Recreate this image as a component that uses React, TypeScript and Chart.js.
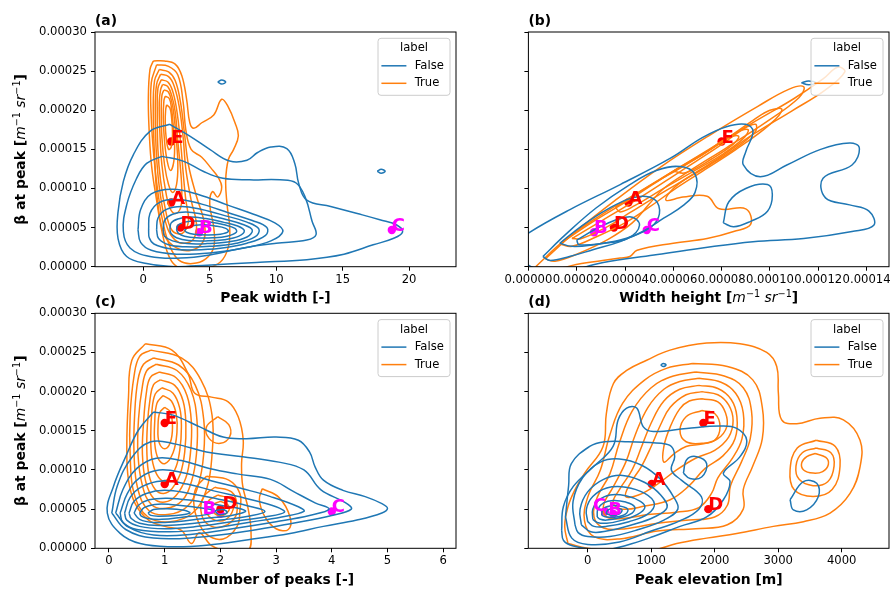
import React, { useEffect, useRef } from 'react';
import { Chart, registerables } from 'chart.js';

Chart.register(...registerables);

type Pt = [number, number];

const FONT = "'DejaVu Sans', 'Liberation Sans', sans-serif";
const BLUE = '#1f77b4';
const ORANGE = '#ff7f0e';

// ---------------- axis ticks ----------------
const betaTicks = [0, 0.00005, 0.0001, 0.00015, 0.0002, 0.00025, 0.0003];
const peakWidthTicks = [0, 5, 10, 15, 20];
const widthHeightTicks = [0, 0.00002, 0.00004, 0.00006, 0.00008, 0.0001, 0.00012, 0.00014];
const numPeaksTicks = [0, 1, 2, 3, 4, 5, 6];
const elevationTicks = [0, 1000, 2000, 3000, 4000];

// ---------------- highlighted cases ----------------
const caseLabels = ['A', 'B', 'C', 'D', 'E'];
const caseColors = ['#ff0000', '#ff00ff', '#ff00ff', '#ff0000', '#ff0000'];
const caseBetaE5 = [8.2, 4.4, 4.7, 5.0, 16.0]; // β at peak, in 1e-5 m^-1 sr^-1
const casePeakWidth = [2.1, 4.2, 18.7, 2.8, 2.1];
const caseWidthHeightE5 = [4.14, 2.72, 4.9, 3.54, 8.0]; // in 1e-5
const caseNumPeaks = [1, 2, 4, 2, 1];
const casePeakElevation = [1008, 404, 273, 1900, 1822];

// ---------------- KDE contour lines (y in 1e-5) ----------------
// (a) Peak width, label False
const widthFalseRings: Pt[][] = [
  [[2.0,18.2],[3.5,16.7],[5.0,15.0],[6.5,13.5],[7.8,13.6],[8.6,14.6],[9.6,15.3],[10.8,15.1],[11.4,13.2],[11.7,10.6],[12.3,8.5],[14.1,7.7],[16.1,6.8],[17.8,6.0],[19.1,5.3],[19.5,4.4],[18.8,3.6],[17.3,2.8],[15.1,1.6],[12.3,0.9],[8.5,0.55],[4.8,0.2],[2.5,0.0],[0.25,0.4],[-1.25,1.3],[-1.9,3.6],[-1.9,7.0],[-1.5,10.9],[-0.75,14.3],[0.5,17.3]],
  [[1.4,14.1],[3.0,13.5],[4.5,12.2],[6.0,11.3],[8.0,11.1],[10.3,11.1],[11.5,10.7],[12.2,8.8],[12.7,5.8],[13.0,4.1],[12.3,3.4],[10.0,3.0],[7.5,2.4],[5.0,1.5],[2.8,1.1],[0.5,1.3],[-1.0,2.4],[-1.5,4.5],[-1.25,7.9],[-0.5,11.3],[0.25,13.2]],
  [[-0.4,4.7],[-0.2,7.3],[0.6,9.3],[2.2,9.9],[4.2,9.2],[6.3,7.9],[8.3,6.7],[9.9,5.6],[10.5,4.5],[9.6,3.3],[7.6,2.4],[5.0,1.75],[2.5,1.6],[0.6,2.1],[-0.2,3.1]],
  [[0.4,4.7],[0.5,6.8],[1.2,8.2],[2.6,8.6],[4.4,8.0],[6.4,6.9],[8.2,5.9],[9.3,5.0],[9.2,4.0],[7.8,3.0],[5.8,2.35],[3.8,2.15],[2.0,2.3],[0.8,2.9],[0.45,3.7]],
  [[1.0,4.7],[1.1,6.2],[1.7,7.3],[2.9,7.7],[4.4,7.3],[6.2,6.5],[7.8,5.7],[8.7,4.8],[8.4,3.8],[7.0,3.0],[5.0,2.6],[3.2,2.55],[1.9,2.8],[1.15,3.6]],
  [[1.5,4.7],[1.6,5.9],[2.2,6.7],[3.2,7.0],[4.5,6.7],[6.1,6.1],[7.5,5.4],[8.2,4.7],[7.8,3.8],[6.5,3.2],[4.8,2.95],[3.3,2.95],[2.2,3.3],[1.6,3.9]],
  [[2.0,4.7],[2.1,5.6],[2.6,6.1],[3.5,6.35],[4.7,6.15],[6.0,5.7],[7.1,5.2],[7.6,4.6],[7.2,3.9],[6.1,3.45],[4.7,3.3],[3.4,3.35],[2.5,3.7],[2.1,4.2]],
  [[2.5,4.7],[2.6,5.3],[3.1,5.7],[4.0,5.85],[5.0,5.7],[6.1,5.35],[6.9,4.9],[7.0,4.4],[6.3,3.9],[5.2,3.7],[4.0,3.7],[3.1,3.9],[2.65,4.25]],
  [[3.1,4.7],[3.5,5.15],[4.4,5.35],[5.4,5.2],[6.2,4.9],[6.4,4.5],[5.8,4.15],[4.8,4.05],[3.8,4.15],[3.25,4.4]],
  [[5.6,23.6],[5.9,23.85],[6.2,23.6],[5.9,23.35]],
  [[17.6,12.2],[17.9,12.45],[18.2,12.2],[17.9,11.95]],
];
// (a) Peak width, label True
const widthTrueRings: Pt[][] = [
  [[0.75,26.3],[1.6,26.3],[2.4,25.9],[2.9,24.4],[3.26,21.4],[3.5,18.4],[3.8,17.7],[4.4,18.4],[5.3,19.4],[5.9,21.4],[6.4,20.4],[6.9,18.4],[7.15,16.7],[6.8,15.0],[6.4,13.7],[6.2,11.0],[6.3,8.0],[6.5,5.0],[6.4,2.5],[5.8,0.6],[4.5,-0.3],[3.0,-0.3],[2.26,0.4],[1.76,2.1],[1.38,4.7],[1.0,8.5],[0.63,12.8],[0.45,17.1],[0.38,21.4],[0.5,25.2]],
  [[1.0,25.8],[1.9,25.6],[2.6,24.5],[3.0,21.0],[3.2,17.5],[3.6,15.0],[4.4,14.0],[5.1,12.6],[5.6,11.5],[5.9,10.2],[5.6,8.9],[5.2,9.6],[5.0,8.0],[5.3,5.0],[5.3,2.5],[4.7,1.0],[3.7,0.4],[2.7,0.8],[2.0,2.6],[1.5,5.5],[1.1,9.5],[0.8,14.0],[0.6,19.0],[0.6,23.5]],
  [[1.2,25.2],[1.9,24.9],[2.4,23.8],[2.8,21.0],[3.1,17.0],[3.4,13.0],[4.0,9.0],[4.6,5.5],[4.5,3.2],[3.6,2.1],[2.5,2.4],[1.6,4.0],[1.1,8.0],[0.85,14.0],[0.75,20.0],[0.85,23.8]],
  [[1.3,24.6],[1.9,24.3],[2.3,23.2],[2.7,20.5],[3.0,16.5],[3.2,12.5],[3.6,8.5],[4.0,5.5],[3.8,3.6],[3.1,3.0],[2.4,3.4],[1.8,5.0],[1.3,9.0],[1.0,14.0],[0.9,20.0],[1.0,23.3]],
  [[1.35,23.9],[1.85,23.6],[2.2,22.5],[2.5,20.2],[2.8,16.0],[3.0,12.0],[3.2,8.5],[3.4,6.0],[3.1,4.5],[2.6,4.2],[2.1,4.8],[1.7,7.0],[1.3,11.0],[1.1,15.0],[1.05,20.0],[1.1,22.8]],
  [[1.45,23.3],[1.85,23.0],[2.15,21.8],[2.4,19.8],[2.6,16.0],[2.8,12.5],[2.9,9.5],[2.8,7.5],[2.4,6.8],[2.0,7.5],[1.7,9.5],[1.4,13.0],[1.25,17.0],[1.2,21.0],[1.3,22.6]],
  [[1.55,22.6],[1.9,22.3],[2.15,21.0],[2.3,19.5],[2.5,16.0],[2.6,13.0],[2.5,10.5],[2.2,9.5],[1.9,10.5],[1.6,13.0],[1.4,16.5],[1.35,20.0],[1.4,21.9]],
  [[1.65,21.8],[1.95,21.5],[2.12,20.3],[2.2,19.0],[2.35,16.0],[2.3,13.5],[2.05,12.3],[1.8,13.5],[1.6,16.0],[1.5,19.0],[1.55,21.2]],
  [[1.75,20.7],[2.0,20.3],[2.12,19.2],[2.2,17.0],[2.1,15.3],[1.9,15.0],[1.72,16.5],[1.65,18.5],[1.68,20.0]],
];

// (b) Width height (x in 1e-5), label False
const heightFalseRings: Pt[][] = [
  [[-1.0,2.0],[0.0,4.3],[1.72,7.3],[3.8,10.5],[5.9,13.9],[7.2,16.5],[8.2,17.9],[9.0,18.2],[9.3,17.3],[9.0,14.7],[8.9,13.0],[9.6,11.5],[10.7,13.0],[12.1,15.0],[13.3,15.8],[13.7,15.2],[13.4,13.0],[12.2,11.3],[12.3,8.8],[13.3,7.9],[14.1,7.1],[14.3,5.3],[13.4,4.5],[11.4,3.6],[9.3,3.2],[7.2,2.4],[5.2,1.5],[3.1,0.55],[2.4,0.0],[1.0,-1.0]],
  [[0.6,1.3],[1.5,4.0],[2.8,7.5],[4.2,10.5],[5.3,12.3],[6.3,12.8],[6.9,11.8],[6.9,9.5],[6.4,7.8],[5.6,6.2],[4.8,4.6],[3.8,3.2],[2.7,2.2],[1.7,1.3],[0.9,0.8]],
  [[1.3,3.0],[2.2,5.2],[3.3,7.4],[4.3,8.8],[5.0,8.9],[5.4,7.8],[5.3,5.8],[4.7,4.4],[3.8,3.4],[2.7,2.8],[1.8,2.6]],
  [[2.0,3.4],[3.1,5.3],[4.2,6.4],[4.6,5.3],[4.1,3.6],[3.1,3.0],[2.1,2.8]],
  [[8.07,5.6],[8.3,8.3],[9.0,10.0],[9.9,10.5],[10.1,9.2],[9.9,7.1],[9.2,5.8],[8.5,5.1]],
  [[11.3,23.5],[11.6,23.75],[11.9,23.5],[11.6,23.25]],
];
// (b) Width height, label True
const heightTrueRings: Pt[][] = [
  [[0.3,0.0],[1.5,3.4],[3.0,6.6],[4.6,9.6],[6.2,12.6],[7.8,15.6],[9.4,18.6],[11.0,21.5],[12.2,24.0],[12.8,25.5],[13.1,24.9],[12.3,22.6],[10.9,19.9],[9.3,16.9],[7.9,13.9],[6.8,11.8],[6.0,10.0],[5.7,8.5],[6.4,8.9],[7.4,9.0],[7.9,7.4],[9.0,7.4],[9.2,5.4],[8.5,4.5],[7.4,3.6],[6.0,3.0],[4.5,2.1],[4.2,1.3],[3.8,1.1],[2.2,0.4],[1.0,-0.3]],
  [[0.7,1.0],[2.0,4.6],[3.6,8.5],[5.5,12.8],[7.5,16.8],[9.5,20.5],[10.8,22.7],[11.4,23.0],[11.2,21.6],[9.9,18.6],[8.2,15.2],[6.7,12.3],[5.6,10.0],[5.0,8.0],[4.3,5.6],[3.3,3.5],[2.0,1.6],[1.1,0.7]],
  [[1.3,2.9],[2.6,5.6],[4.2,8.6],[6.0,12.2],[7.8,15.5],[9.3,18.7],[10.0,20.0],[10.5,20.1],[10.0,18.2],[8.6,15.0],[7.2,12.2],[6.0,9.8],[5.0,7.6],[4.0,5.6],[2.8,3.8],[1.8,2.6]],
  [[1.8,3.6],[3.0,5.8],[4.6,8.8],[6.3,12.2],[7.9,15.4],[8.9,17.6],[9.4,18.2],[9.4,17.3],[8.6,15.2],[7.5,13.0],[6.4,11.0],[5.3,9.0],[4.2,6.9],[3.2,5.0],[2.2,3.6]],
  [[3.6,7.6],[5.0,10.3],[6.5,13.0],[7.8,15.5],[8.7,17.3],[9.1,17.5],[8.9,16.4],[8.1,14.5],[6.9,12.3],[5.6,10.0],[4.4,7.8],[3.8,7.0]],
  [[6.0,12.2],[7.2,14.3],[8.2,16.4],[8.7,16.7],[8.5,15.7],[7.6,13.8],[6.5,12.0]],
];

// (c) Number of peaks, label False
const peaksFalseRings: Pt[][] = [
  [[0.8,17.4],[1.15,17.0],[1.63,15.5],[2.05,14.2],[2.47,14.0],[3.0,14.2],[3.4,13.8],[3.6,12.3],[3.7,10.4],[3.85,8.7],[4.2,7.4],[4.6,6.6],[4.9,5.7],[5.0,5.1],[4.9,4.5],[4.45,3.6],[3.85,2.8],[3.25,1.9],[2.5,1.1],[1.75,0.4],[1.15,0.2],[0.56,0.6],[0.2,1.9],[-0.03,4.5],[0.08,7.9],[0.3,11.7],[0.53,15.1]],
  [[0.05,4.5],[0.15,8.0],[0.4,11.5],[0.75,13.6],[1.2,13.3],[1.75,12.3],[2.4,11.7],[3.05,11.0],[3.5,10.0],[3.8,7.5],[4.25,5.8],[4.35,5.0],[4.0,4.2],[3.3,3.2],[2.5,2.2],[1.6,1.4],[0.8,1.3],[0.3,2.4]],
  [[0.12,4.5],[0.25,7.5],[0.5,10.2],[0.85,11.5],[1.3,11.2],[1.8,10.2],[2.3,9.5],[2.9,8.8],[3.3,7.3],[3.7,5.8],[3.95,5.0],[3.6,4.2],[3.0,3.4],[2.3,2.6],[1.5,1.8],[0.8,1.7],[0.35,2.7]],
  [[0.2,4.5],[0.33,7.0],[0.55,9.0],[0.9,10.0],[1.35,9.6],[1.85,8.6],[2.4,7.6],[2.9,6.6],[3.4,5.3],[3.5,4.7],[3.1,4.0],[2.5,3.3],[1.8,2.5],[1.1,2.1],[0.5,2.4],[0.25,3.3]],
  [[0.28,4.5],[0.38,6.5],[0.6,7.9],[0.95,8.6],[1.4,8.2],[1.9,7.3],[2.5,6.3],[3.0,5.3],[3.15,4.6],[2.8,4.0],[2.2,3.4],[1.6,2.8],[1.0,2.5],[0.55,2.8],[0.32,3.6]],
  [[0.36,4.5],[0.45,6.0],[0.67,7.0],[1.0,7.4],[1.45,7.0],[1.95,6.3],[2.5,5.4],[2.8,4.7],[2.5,4.1],[2.0,3.6],[1.4,3.1],[0.9,2.9],[0.55,3.2],[0.4,3.8]],
  [[0.45,4.5],[0.53,5.5],[0.72,6.2],[1.05,6.4],[1.5,6.1],[2.0,5.5],[2.45,4.8],[2.2,4.2],[1.7,3.8],[1.2,3.4],[0.8,3.3],[0.55,3.7]],
  [[0.55,4.5],[0.63,5.2],[0.82,5.6],[1.1,5.6],[1.5,5.3],[1.9,4.8],[1.75,4.3],[1.35,4.0],[0.95,3.7],[0.7,3.8],[0.58,4.1]],
  [[0.7,4.5],[0.8,4.95],[1.05,5.05],[1.35,4.85],[1.45,4.5],[1.2,4.2],[0.9,4.1],[0.75,4.2]],
  [[1.9,4.8],[2.05,4.95],[2.12,4.55],[1.97,4.3]],
];
// (c) Number of peaks, label True
const peaksTrueRings: Pt[][] = [
  [[0.65,26.1],[1.13,25.3],[1.42,22.3],[1.54,19.8],[1.84,19.3],[2.14,18.7],[2.32,16.8],[2.41,13.8],[2.38,10.8],[2.4,8.0],[2.5,5.0],[2.55,2.0],[2.5,-0.3],[2.2,-0.5],[1.85,0.3],[1.62,2.0],[1.48,0.6],[1.3,2.3],[1.0,2.8],[0.71,3.6],[0.47,5.7],[0.35,8.7],[0.32,13.0],[0.35,19.3],[0.41,24.0]],
  [[0.75,25.3],[1.3,24.3],[1.65,21.5],[1.85,17.0],[1.85,12.0],[1.75,7.5],[1.5,4.5],[1.1,3.4],[0.7,4.0],[0.45,7.0],[0.38,12.0],[0.38,17.0],[0.45,22.0],[0.55,24.5]],
  [[0.8,24.3],[1.25,23.4],[1.55,20.8],[1.7,16.5],[1.7,12.0],[1.6,8.0],[1.4,5.3],[1.05,4.3],[0.72,4.8],[0.52,7.5],[0.45,12.0],[0.46,17.0],[0.52,21.5],[0.62,23.5]],
  [[0.85,23.5],[1.22,22.7],[1.47,20.2],[1.58,16.3],[1.57,12.0],[1.48,8.5],[1.3,6.0],[1.02,5.1],[0.76,5.6],[0.6,8.0],[0.52,12.0],[0.53,16.5],[0.6,20.7],[0.68,22.7]],
  [[0.9,22.5],[1.2,21.8],[1.4,19.5],[1.48,16.0],[1.46,12.0],[1.38,9.0],[1.2,6.7],[1.0,5.9],[0.8,6.4],[0.66,8.5],[0.6,12.0],[0.62,16.0],[0.67,19.8],[0.74,21.8]],
  [[0.92,21.5],[1.18,20.8],[1.33,18.8],[1.38,15.8],[1.36,12.3],[1.28,9.5],[1.13,7.6],[0.98,7.0],[0.83,7.5],[0.72,9.3],[0.68,12.3],[0.69,15.8],[0.74,19.2],[0.8,20.9]],
  [[0.95,20.5],[1.15,19.8],[1.27,17.9],[1.3,15.5],[1.27,12.5],[1.18,10.0],[1.0,8.6],[0.86,9.4],[0.77,11.5],[0.75,14.5],[0.77,17.5],[0.83,19.7]],
  [[0.97,19.5],[1.12,18.8],[1.21,17.0],[1.22,14.8],[1.15,12.2],[1.0,10.8],[0.88,11.5],[0.82,13.5],[0.82,16.0],[0.86,18.5]],
  [[1.0,18.0],[1.1,17.4],[1.14,15.5],[1.1,13.5],[1.0,12.7],[0.9,13.5],[0.88,15.5],[0.91,17.3]],
  [[1.75,9.2],[2.15,8.7],[2.35,7.0],[2.35,4.8],[2.3,2.8],[2.05,1.2],[1.75,1.8],[1.57,4.0],[1.52,6.0],[1.57,7.8]],
  [[1.9,7.8],[2.2,7.2],[2.3,5.5],[2.25,3.8],[2.0,2.7],[1.75,3.2],[1.65,4.8],[1.7,6.6]],
  [[1.95,6.8],[2.2,6.2],[2.23,5.0],[2.1,3.7],[1.9,3.6],[1.75,4.6],[1.78,6.0]],
  [[2.0,6.0],[2.14,5.5],[2.14,4.7],[2.0,4.2],[1.86,4.7],[1.86,5.5]],
  [[1.95,16.8],[2.15,15.8],[2.17,14.3],[2.0,13.4],[1.8,14.0],[1.75,15.5]],
  [[2.75,7.6],[3.05,6.5],[3.25,4.0],[3.22,2.4],[3.0,2.5],[2.8,4.0],[2.7,6.2]],
];

// (d) Peak elevation, label False
const elevFalseRings: Pt[][] = [
  [[-410,2.3],[-383,5.3],[-226,7.9],[89,10.4],[400,13.0],[480,16.4],[614,17.9],[772,17.9],[877,15.5],[1034,14.9],[1559,15.3],[2084,15.6],[2347,15.3],[2504,13.8],[2399,11.7],[2137,9.6],[2242,8.5],[2137,6.2],[1874,4.0],[1454,2.8],[1034,1.5],[614,0.4],[247,-0.2],[-226,0.3],[-380,1.0]],
  [[-350,4.0],[-300,8.0],[-257,10.8],[31,13.0],[268,13.6],[635,13.6],[1160,13.4],[1318,13.0],[1370,11.7],[1318,10.0],[1475,8.7],[1790,6.6],[1750,5.0],[1450,3.5],[1000,2.2],[500,0.8],[0,0.5],[-250,1.3]],
  [[-200,3.0],[-230,6.0],[-80,9.0],[200,11.0],[500,11.4],[850,10.6],[1150,8.8],[1350,6.6],[1420,5.0],[1200,3.6],[800,2.4],[350,1.5],[0,1.5],[-150,2.0]],
  [[-100,3.0],[-120,5.0],[0,7.2],[250,8.8],[550,9.3],[900,8.4],[1150,6.8],[1250,5.2],[1050,4.0],[700,3.0],[300,2.2],[50,2.1]],
  [[0,3.4],[-20,5.0],[80,6.6],[300,7.7],[600,7.8],[900,7.0],[1050,5.7],[950,4.4],[650,3.4],[300,2.8],[100,2.8]],
  [[80,3.7],[80,5.0],[170,6.1],[350,6.8],[600,6.7],[830,6.0],[900,5.2],[780,4.3],[550,3.6],[300,3.2],[150,3.3]],
  [[150,4.0],[160,5.0],[250,5.8],[400,6.1],[600,5.9],[740,5.3],[700,4.5],[500,3.9],[300,3.6],[200,3.7]],
  [[220,4.2],[240,5.0],[350,5.4],[500,5.4],[630,5.0],[600,4.4],[450,4.0],[300,4.0]],
  [[290,4.4],[320,4.9],[430,5.1],[540,4.9],[500,4.4],[400,4.2]],
  [[1507,9.6],[1559,11.3],[1717,11.7],[1874,10.8],[1795,9.1],[1612,8.9]],
  [[3187,6.2],[3397,8.5],[3607,8.3],[3633,6.6],[3449,4.9],[3239,4.9]],
  [[1150,23.4],[1192,23.6],[1234,23.4],[1192,23.2]],
];
// (d) Peak elevation, label True
const elevTrueRings: Pt[][] = [
  [[-310,0.6],[-362,2.8],[-310,5.3],[-205,7.4],[-47,9.6],[242,13.0],[294,17.2],[404,21.0],[614,22.7],[929,24.0],[1297,25.3],[1874,26.2],[2399,26.1],[2819,25.0],[2977,23.2],[3003,19.8],[3055,16.4],[3292,15.9],[3659,16.6],[4027,16.4],[4289,13.8],[4289,10.4],[4132,7.0],[3817,4.5],[3397,3.4],[2924,2.8],[2347,1.9],[1874,1.3],[1402,0.6],[1034,-0.2],[400,-0.3],[0,0.0]],
  [[1650,23.6],[2200,23.2],[2600,21.5],[2750,18.0],[2750,14.0],[2600,10.5],[2450,7.5],[2450,5.0],[2200,3.0],[1700,2.5],[1100,2.2],[500,1.2],[100,1.5],[-50,3.5],[0,6.5],[200,10.0],[350,14.5],[550,18.5],[900,21.5],[1250,23.0]],
  [[1700,22.5],[2150,22.0],[2450,20.5],[2580,17.5],[2560,14.0],[2420,11.0],[2250,8.0],[2200,5.5],[2000,4.0],[1600,3.6],[1100,3.2],[600,2.5],[250,2.6],[100,4.0],[150,6.5],[350,9.5],[500,13.5],[700,17.5],[1000,20.5],[1350,22.0]],
  [[1750,21.7],[2100,21.2],[2330,19.8],[2450,17.3],[2430,14.0],[2280,11.5],[2050,9.0],[1950,7.0],[1750,5.2],[1400,4.6],[950,4.3],[550,3.8],[300,4.0],[250,5.5],[400,7.8],[600,11.0],[750,14.5],[950,18.0],[1200,20.3],[1450,21.3]],
  [[1750,20.8],[2050,20.4],[2260,19.0],[2350,16.8],[2320,14.0],[2130,11.8],[1850,10.2],[1600,8.0],[1300,6.2],[900,5.4],[550,5.0],[400,5.8],[500,7.5],[700,10.0],[850,13.0],[1000,16.0],[1200,18.8],[1450,20.3]],
  [[1800,20.0],[2050,19.6],[2220,18.3],[2290,16.3],[2220,14.2],[2000,12.5],[1700,11.5],[1400,10.0],[1100,8.2],[800,6.8],[600,6.6],[650,8.0],[850,10.5],[1000,13.0],[1150,15.8],[1300,18.0],[1550,19.6]],
  [[1800,19.1],[2050,18.7],[2170,17.3],[2190,15.5],[2050,14.0],[1800,13.3],[1550,13.0],[1350,12.0],[1200,11.0],[1200,13.0],[1300,15.5],[1450,17.8],[1600,18.8]],
  [[1800,17.6],[2000,17.2],[2084,15.5],[2000,13.8],[1800,13.4],[1550,13.6],[1454,15.0],[1550,16.8]],
  [[3600,13.8],[3900,13.0],[3974,10.5],[3850,7.5],[3550,6.6],[3250,7.5],[3187,10.0],[3300,12.8]],
  [[3600,12.8],[3830,12.2],[3880,10.5],[3780,8.5],[3550,8.0],[3330,8.8],[3280,10.5],[3380,12.2]],
  [[3580,12.1],[3750,11.6],[3790,10.7],[3700,9.8],[3550,9.6],[3400,10.0],[3370,10.9],[3450,11.7]],
];

// ---------------- text helpers ----------------
type Seg = { t: string; f: string; dy?: number };
const B14 = `bold 13.9px ${FONT}`;
const I14 = `italic 13.9px ${FONT}`;
const S10 = `9.7px ${FONT}`;
const unitSegs = (openFont: string): Seg[] => [
  { t: '[', f: openFont },
  { t: 'm', f: I14 },
  { t: '\u22121', f: S10, dy: -5.5 },
  { t: ' ', f: I14 },
  { t: 'sr', f: I14 },
  { t: '\u22121', f: S10, dy: -5.5 },
  { t: ']', f: openFont },
];
const yTitleSegs: Seg[] = [{ t: '\u03b2 at peak ', f: B14 }, ...unitSegs(B14)];

function drawRich(ctx: CanvasRenderingContext2D, segs: Seg[], cx: number, cy: number, rotate: boolean) {
  ctx.save();
  ctx.translate(cx, cy);
  if (rotate) ctx.rotate(-Math.PI / 2);
  let total = 0;
  const ws = segs.map((s) => { ctx.font = s.f; const w = ctx.measureText(s.t).width; total += w; return w; });
  let x = -total / 2;
  ctx.textAlign = 'left';
  ctx.textBaseline = 'alphabetic';
  ctx.fillStyle = '#000';
  segs.forEach((s, i) => { ctx.font = s.f; ctx.fillText(s.t, x, s.dy || 0); x += ws[i]; });
  ctx.restore();
}

// ---------------- panel specs ----------------
const panels = [
  {
    tag: '(a)', area: { l: 95, t: 32, r: 456, b: 266.7 }, xMin: -3.634, xMax: 23.53, xTicks: peakWidthTicks,
    xFmt: (v: number) => String(v), xUnit: 1, yLabels: true,
    falseRings: widthFalseRings, trueRings: widthTrueRings, caseX: casePeakWidth,
    labelOffsets: [[0, 1], [0, 1], [0, 1], [0, 1], [0, 1]],
    xTitle: [{ t: 'Peak width [-]', f: B14 }] as Seg[],
  },
  {
    tag: '(b)', area: { l: 528.4, t: 32, r: 889, b: 266.7 }, xMin: 0, xMax: 0.0001493, xTicks: widthHeightTicks,
    xFmt: (v: number) => Number(v).toFixed(5), xUnit: 1e-5, yLabels: false,
    falseRings: heightFalseRings, trueRings: heightTrueRings, caseX: caseWidthHeightE5,
    labelOffsets: [[0, 1], [0, 1], [0, 1], [0, 1], [0, 1]],
    xTitle: [{ t: 'Width height ', f: B14 }, ...unitSegs(B14)] as Seg[],
  },
  {
    tag: '(c)', area: { l: 95, t: 313.3, r: 456, b: 548.3 }, xMin: -0.2513, xMax: 6.23, xTicks: numPeaksTicks,
    xFmt: (v: number) => String(v), xUnit: 1, yLabels: true,
    falseRings: peaksFalseRings, trueRings: peaksTrueRings, caseX: caseNumPeaks,
    labelOffsets: [[0, 1], [-18, 0], [0, 1], [2, 0], [0, 1]],
    xTitle: [{ t: 'Number of peaks [-]', f: B14 }] as Seg[],
  },
  {
    tag: '(d)', area: { l: 528.3, t: 313.3, r: 889, b: 548.3 }, xMin: -935, xMax: 4745, xTicks: elevationTicks,
    xFmt: (v: number) => String(v), xUnit: 1, yLabels: false,
    falseRings: elevFalseRings, trueRings: elevTrueRings, caseX: casePeakElevation,
    labelOffsets: [[0, 1], [-5, 1], [-12, 0], [0, 1], [0, 1]],
    xTitle: [{ t: 'Peak elevation [m]', f: B14 }] as Seg[],
  },
];

type PanelSpec = typeof panels[number];

const CW = 920, CH = 600, Y_W = 90, X_H = 24;

function roundRectPath(ctx: CanvasRenderingContext2D, x: number, y: number, w: number, h: number, r: number) {
  ctx.beginPath();
  ctx.moveTo(x + r, y);
  ctx.arcTo(x + w, y, x + w, y + h, r);
  ctx.arcTo(x + w, y + h, x, y + h, r);
  ctx.arcTo(x, y + h, x, y, r);
  ctx.arcTo(x, y, x + w, y, r);
  ctx.closePath();
}

function makeDecor(p: PanelSpec) {
  return {
    id: 'decor',
    afterDatasetsDraw(chart: any) {
      const ctx = chart.ctx as CanvasRenderingContext2D;
      const xs = chart.scales.x, ys = chart.scales.y;
      ctx.save();
      ctx.font = `bold 18px ${FONT}`;
      ctx.textAlign = 'left';
      ctx.textBaseline = 'alphabetic';
      for (let i = 0; i < caseLabels.length; i++) {
        const px = xs.getPixelForValue(p.caseX[i] * p.xUnit);
        const py = ys.getPixelForValue(caseBetaE5[i] * 1e-5);
        const off = p.labelOffsets[i];
        ctx.fillStyle = caseColors[i];
        ctx.fillText(caseLabels[i], px + off[0], py + off[1]);
      }
      ctx.restore();
    },
    afterDraw(chart: any) {
      const ctx = chart.ctx as CanvasRenderingContext2D;
      const ca = chart.chartArea;
      ctx.save();
      // frame (all four spines)
      ctx.strokeStyle = '#000';
      ctx.lineWidth = 1;
      ctx.strokeRect(ca.left, ca.top, ca.right - ca.left, ca.bottom - ca.top);
      // legend
      const bw = 72, bh = 57;
      const bx = ca.right - 6 - bw, by = ca.top + 6.3;
      roundRectPath(ctx, bx, by, bw, bh, 3);
      ctx.fillStyle = 'rgba(255,255,255,0.8)';
      ctx.fill();
      ctx.strokeStyle = '#cccccc';
      ctx.lineWidth = 1;
      ctx.stroke();
      ctx.font = `11.6px ${FONT}`;
      ctx.fillStyle = '#000';
      ctx.textBaseline = 'middle';
      ctx.textAlign = 'center';
      ctx.fillText('label', bx + bw / 2, by + 10);
      const rows: [string, string, number][] = [['False', BLUE, by + 27.5], ['True', ORANGE, by + 45]];
      ctx.textAlign = 'left';
      rows.forEach(([name, col, yy]) => {
        ctx.strokeStyle = col;
        ctx.lineWidth = 1.5;
        ctx.beginPath();
        ctx.moveTo(bx + 3.4, yy);
        ctx.lineTo(bx + 28.4, yy);
        ctx.stroke();
        ctx.fillStyle = '#000';
        ctx.fillText(name, bx + 36.7, yy);
      });
      // panel tag
      ctx.font = `bold 13.9px ${FONT}`;
      ctx.fillStyle = '#000';
      ctx.textAlign = 'left';
      ctx.textBaseline = 'alphabetic';
      ctx.fillText(p.tag, ca.left, ca.top - 7);
      // axis titles
      drawRich(ctx, p.xTitle, (ca.left + ca.right) / 2, ca.bottom + 35.5, false);
      if (p.yLabels) drawRich(ctx, yTitleSegs, 25, (ca.top + ca.bottom) / 2, true);
      ctx.restore();
    },
  };
}

function buildConfig(p: PanelSpec): any {
  const toData = (ring: Pt[]) => [...ring, ring[0]].map(([x, y]) => ({ x: x * p.xUnit, y: y * 1e-5 }));
  const ringSets = (rings: Pt[][], color: string) =>
    rings.map((r) => ({
      data: toData(r), showLine: true, borderColor: color, borderWidth: 1.5,
      pointRadius: 0, pointHoverRadius: 0, tension: 0.4, fill: false,
    }));
  const pointsSet = {
    data: caseLabels.map((_, i) => ({ x: p.caseX[i] * p.xUnit, y: caseBetaE5[i] * 1e-5 })),
    showLine: false, pointRadius: 4.2, pointBackgroundColor: caseColors, pointBorderColor: caseColors,
    pointBorderWidth: 0, clip: false,
  };
  const grid = {
    display: true, drawOnChartArea: false, drawTicks: true, tickLength: 4,
    tickColor: '#000', tickWidth: 1, color: '#000', lineWidth: 1,
  };
  const tickFont = { family: FONT, size: 11.6 };
  return {
    type: 'scatter',
    data: { datasets: [...ringSets(p.falseRings, BLUE), ...ringSets(p.trueRings, ORANGE), pointsSet] },
    options: {
      responsive: false,
      maintainAspectRatio: false,
      animation: false,
      events: [],
      layout: { padding: { left: p.area.l - Y_W, top: p.area.t, right: CW - p.area.r, bottom: CH - p.area.b - X_H } },
      plugins: { legend: { display: false }, tooltip: { enabled: false }, title: { display: false } },
      scales: {
        x: {
          type: 'linear', position: 'bottom', min: p.xMin, max: p.xMax,
          afterBuildTicks: (s: any) => { s.ticks = p.xTicks.map((v) => ({ value: v })); },
          afterFit: (s: any) => { s.height = X_H; },
          grid, border: { display: false },
          ticks: { autoSkip: false, maxRotation: 0, minRotation: 0, padding: 2, color: '#000', font: tickFont,
            callback: (v: any) => p.xFmt(Number(v)) },
        },
        y: {
          type: 'linear', position: 'left', min: 0, max: 0.0003,
          afterBuildTicks: (s: any) => { s.ticks = betaTicks.map((v) => ({ value: v })); },
          afterFit: (s: any) => { s.width = Y_W; },
          grid, border: { display: false },
          ticks: { autoSkip: false, padding: 4, color: '#000', font: tickFont,
            callback: (v: any) => (p.yLabels ? Number(v).toFixed(5) : '') },
        },
      },
    },
    plugins: [makeDecor(p)],
  };
}

function Panel({ spec }: { spec: PanelSpec }) {
  const ref = useRef<HTMLCanvasElement>(null);
  useEffect(() => {
    const chart = new Chart(ref.current as HTMLCanvasElement, buildConfig(spec));
    return () => chart.destroy();
  }, [spec]);
  return (
    <canvas
      ref={ref}
      width={CW}
      height={CH}
      style={{ position: 'absolute', left: 0, top: 0, width: CW, height: CH }}
    />
  );
}

export default function App() {
  return (
    <div style={{ position: 'fixed', left: 0, top: 0, width: 891, height: 595, overflow: 'hidden', background: '#fff' }}>
      {panels.map((p) => (
        <Panel key={p.tag} spec={p} />
      ))}
    </div>
  );
}
